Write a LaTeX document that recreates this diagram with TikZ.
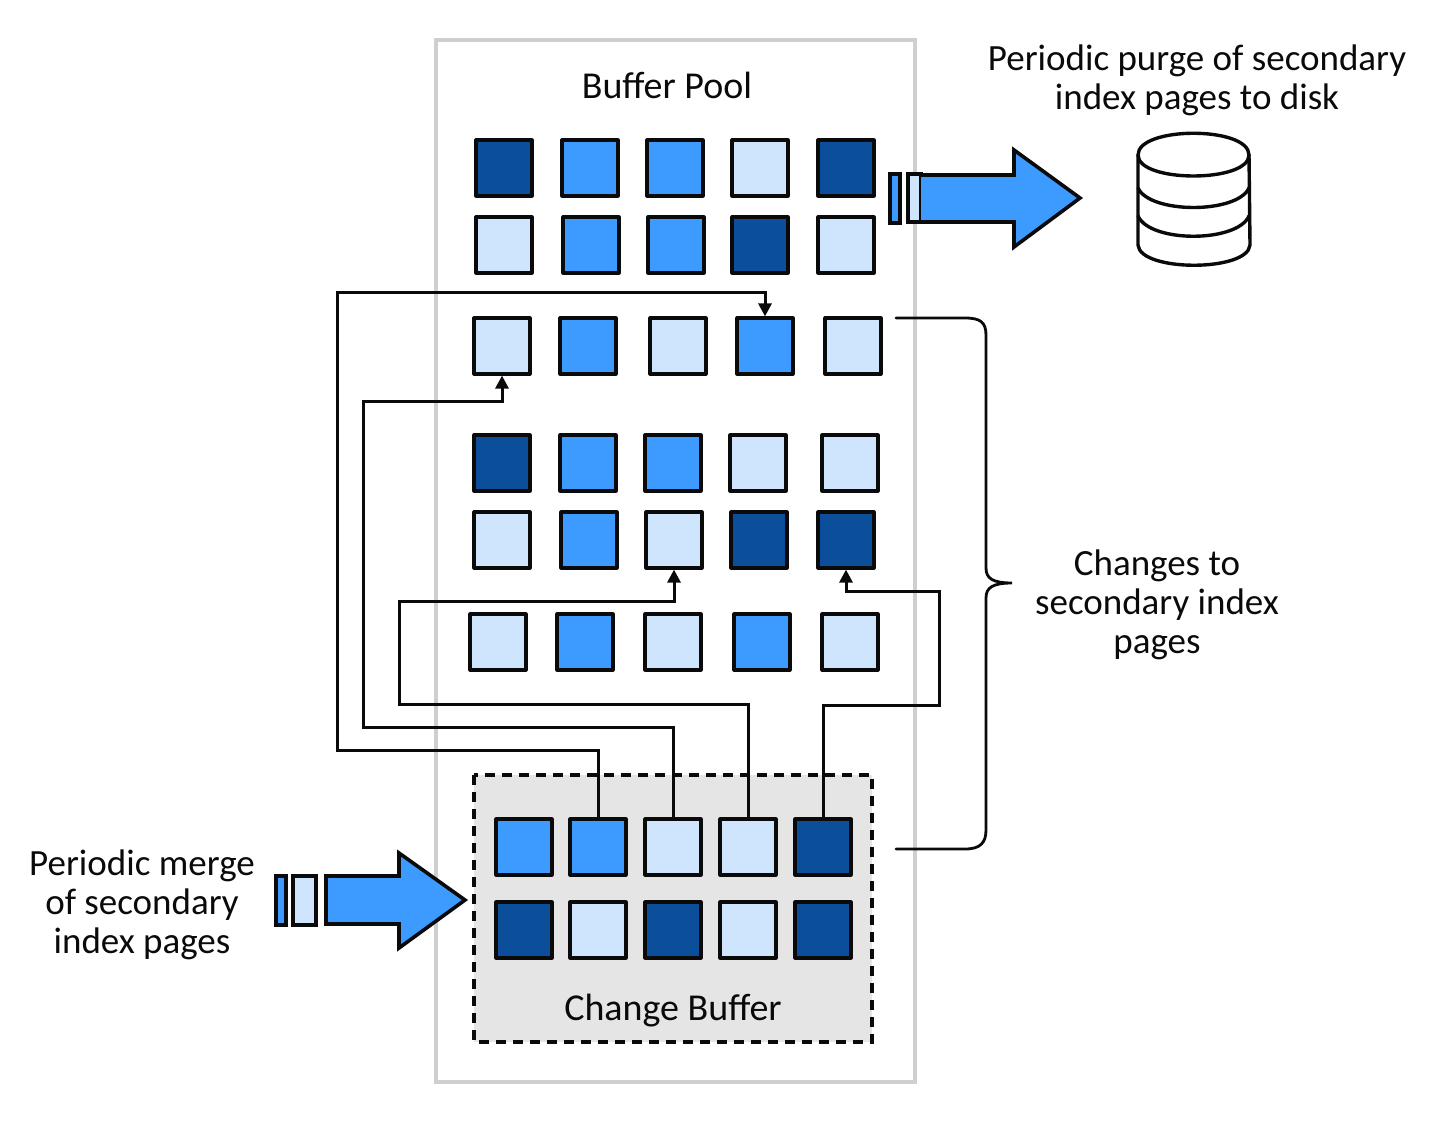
\documentclass[tikz,border=0pt]{standalone}
\usepackage{fontspec}
\setmainfont{Carlito}
\usetikzlibrary{arrows.meta}
\definecolor{cL}{HTML}{CFE4FD}
\definecolor{cM}{HTML}{3D9BFF}
\definecolor{cD}{HTML}{0B4F9B}
\definecolor{cG}{HTML}{CFCFCF}
\definecolor{cB}{HTML}{E5E5E5}
\definecolor{ink}{HTML}{0A0A0A}
\tikzset{
  x=1pt,y=-1pt,
  page/.style={draw=ink,line width=3.2pt,minimum size=56pt,inner sep=0pt,line join=round},
  L/.style={page,fill=cL},
  M/.style={page,fill=cM},
  D/.style={page,fill=cD},
  link/.style={draw=ink,line width=3pt,line join=miter},
  head/.style={-{Triangle[length=13pt,width=13pt]}},
  fat/.style={draw=ink,fill=cM,line width=3.6pt,line join=miter},
  bar/.style={draw=ink,line width=3.2pt},
  caption/.style={align=center,font=\fontsize{37}{39}\selectfont,text=ink,inner sep=0pt},
  bigcaption/.style={caption,font=\fontsize{38}{39}\selectfont},
  drum/.style={draw=ink,line width=3.4pt,line cap=round}
}
\begin{document}
\begin{tikzpicture}
\useasboundingbox (0,0) rectangle (1446,1126);
\draw[cG,line width=3.4pt] (436,40) rectangle (915,1082);
\node[bigcaption] (bp) at (667,85) {Buffer Pool};
\node[caption] (purge) at (1197,80) {Periodic purge of secondary\\index pages to disk};
\node[caption] (chg) at (1157,605) {Changes to\\secondary index\\pages};
\node[caption] (merge) at (142,905) {Periodic merge\\of secondary\\index pages};
% change buffer
\draw[fill=cB,draw=ink,line width=3.2pt,dash pattern=on 10pt off 7pt] (474,775) rectangle (872,1042);
\node[bigcaption] (cbt) at (673,1011) {Change Buffer};
% pages
\foreach \n/\s/\x/\y in {
a1/D/504/168,a2/M/590/168,a3/M/675/168,a4/L/760/168,a5/D/846/168,
b1/L/504/245,b2/M/591/245,b3/M/676/245,b4/D/760/245,b5/L/846/245,
e1/L/502/346,e2/M/588/346,e3/L/678/346,e4/M/765/346,e5/L/853/346,
f1/D/502/463,f2/M/588/463,f3/M/673/463,f4/L/758/463,f5/L/850/463,
g1/L/502/540,g2/M/589/540,g3/L/674/540,g4/D/759/540,g5/D/846/540,
h1/L/498/642,h2/M/585/642,h3/L/673/642,h4/M/762/642,h5/L/850/642,
c1/M/524/847,c2/M/598/847,c3/L/673/847,c4/L/748/847,c5/D/823/847,
d1/D/524/930,d2/L/598/930,d3/D/673/930,d4/L/748/930,d5/D/823/930}
{\node[\s] (\n) at (\x,\y) {};}
% connectors
\coordinate (k1) at (337,750); \coordinate (k1b) at (337,292);
\coordinate (k2) at (363,727); \coordinate (k2b) at (363,401);
\coordinate (k3) at (399,704); \coordinate (k3b) at (399,601);
\coordinate (k4) at (939,705); \coordinate (k4b) at (939,591);
\draw[link,head] (c2.north) |- (k1) -- (k1b) -| (e4.north);
\draw[link,head] (c3.north) |- (k2) -- (k2b) -| (e1.south);
\draw[link,head] (c4.north) |- (k3) -- (k3b) -| (g3.south);
\draw[link,head] (c5.north) |- (k4) -- (k4b) -| (g5.south);
% purge arrow
\draw[bar,fill=cM] (890,174) rectangle (900,223);
\draw[bar,fill=cL] (908,174) rectangle (921,222);
\draw[fat] (921,175) -- (1014,175) -- (1014,150) -- (1080,198) -- (1014,247) -- (1014,222) -- (921,222);
% merge arrow
\draw[bar,fill=cM] (276,876) rectangle (286,925);
\draw[bar,fill=cL] (293,876) rectangle (316,925);
\draw[fat] (326,876) -- (399,876) -- (399,853) -- (465,900) -- (399,948) -- (399,924) -- (326,924) -- cycle;
% disk
\draw[drum] (1138,155) .. controls (1138,126) and (1249,126) .. (1249,155)
  .. controls (1249,183) and (1138,183) .. (1138,155);
\draw[drum] (1138,155) -- (1138,245) .. controls (1140,272) and (1248,272) .. (1250,245) -- (1249,155);
\draw[drum] (1138,188) .. controls (1150,214) and (1237,214) .. (1249,188);
\draw[drum] (1138,216) .. controls (1150,243) and (1237,243) .. (1249,216);
% brace
\coordinate (br1) at (896,318); \coordinate (br2) at (896,849); \coordinate (brt) at (1012,583);
\draw[draw=ink,line width=2.8pt,line cap=round] (br1) -- (965,318) .. controls (980,318) and (986,322) .. (986,335)
  -- (986,568) .. controls (986,578) and (992,583) .. (brt)
  .. controls (992,583) and (986,588) .. (986,598) -- (986,830)
  .. controls (986,843) and (980,849) .. (965,849) -- (br2);
\end{tikzpicture}
\end{document}
